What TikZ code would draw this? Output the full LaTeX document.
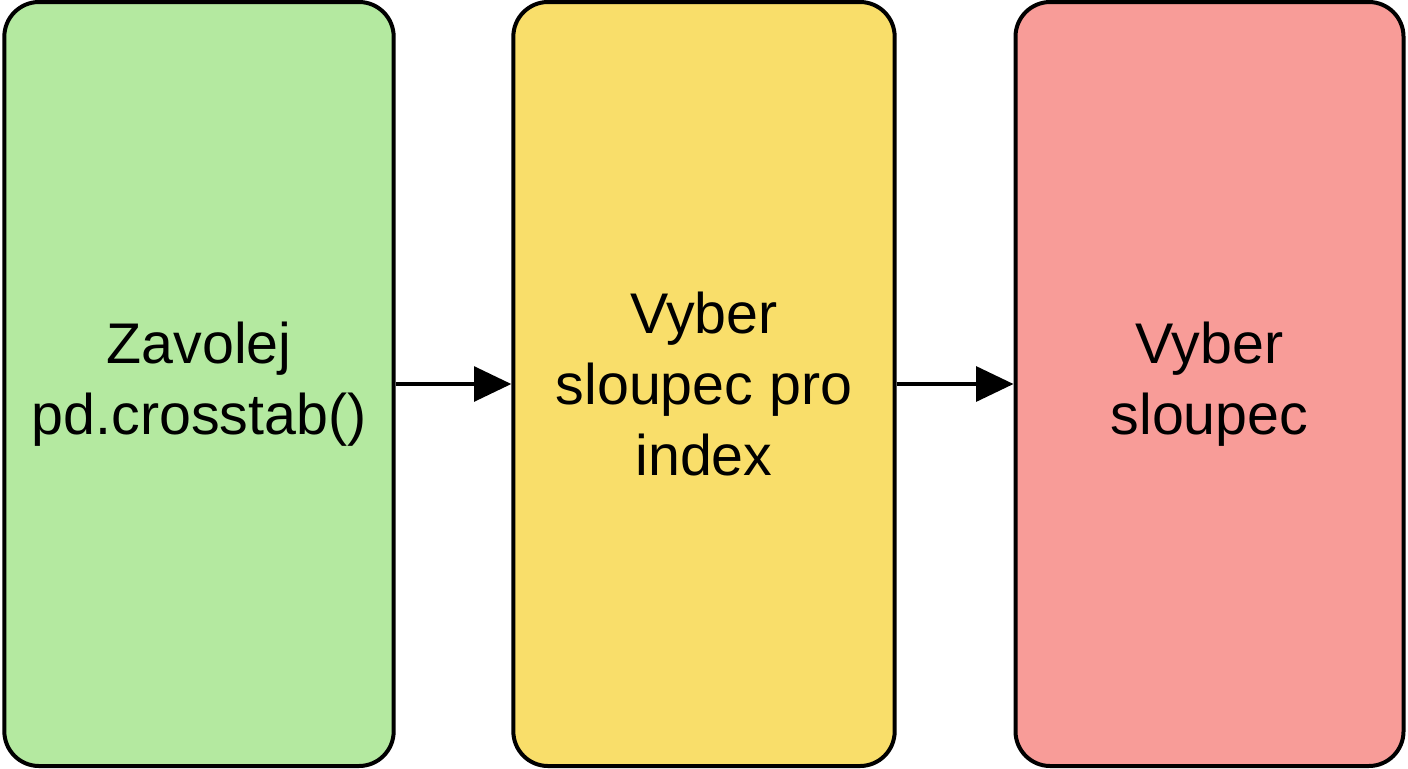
\documentclass[tikz,border=0pt]{standalone}
\usepackage{fontspec}
\setmainfont{Liberation Sans}
\usetikzlibrary{arrows.meta}
\begin{document}
\begin{tikzpicture}[x=0.75pt,y=-0.75pt]
% ------------------------------------------------ theme colors
\definecolor{st_green}{RGB}{180,233,160}
\definecolor{st_yellow}{RGB}{249,222,106}
\definecolor{st_red}{RGB}{248,156,152}
\tikzset{stage/.style={draw=black,line width=3pt,rounded corners=26pt,align=center,
  font=\fontsize{43}{53}\selectfont,minimum height=573pt,inner sep=0pt},
  flow/.style={line width=3pt,-{Triangle[length=28pt,width=26pt]}}}
\useasboundingbox (0,0) rectangle (1408,768);
% ---------------------------------------------  stages
\node[stage,fill=st_green,minimum width=292pt]  (call)  at (199,384)    {Zavolej\\pd.crosstab()};
\node[stage,fill=st_yellow,minimum width=286pt] (index) at (704,384)    {Vyber\\sloupec pro\\index};
\node[stage,fill=st_red,minimum width=291pt]    (col)   at (1209.5,384) {Vyber\\sloupec};
% ---------------------------------------------  arrows
\draw[flow] (call) -- (index);
\draw[flow] (index) -- (col);
\end{tikzpicture}
\end{document}
